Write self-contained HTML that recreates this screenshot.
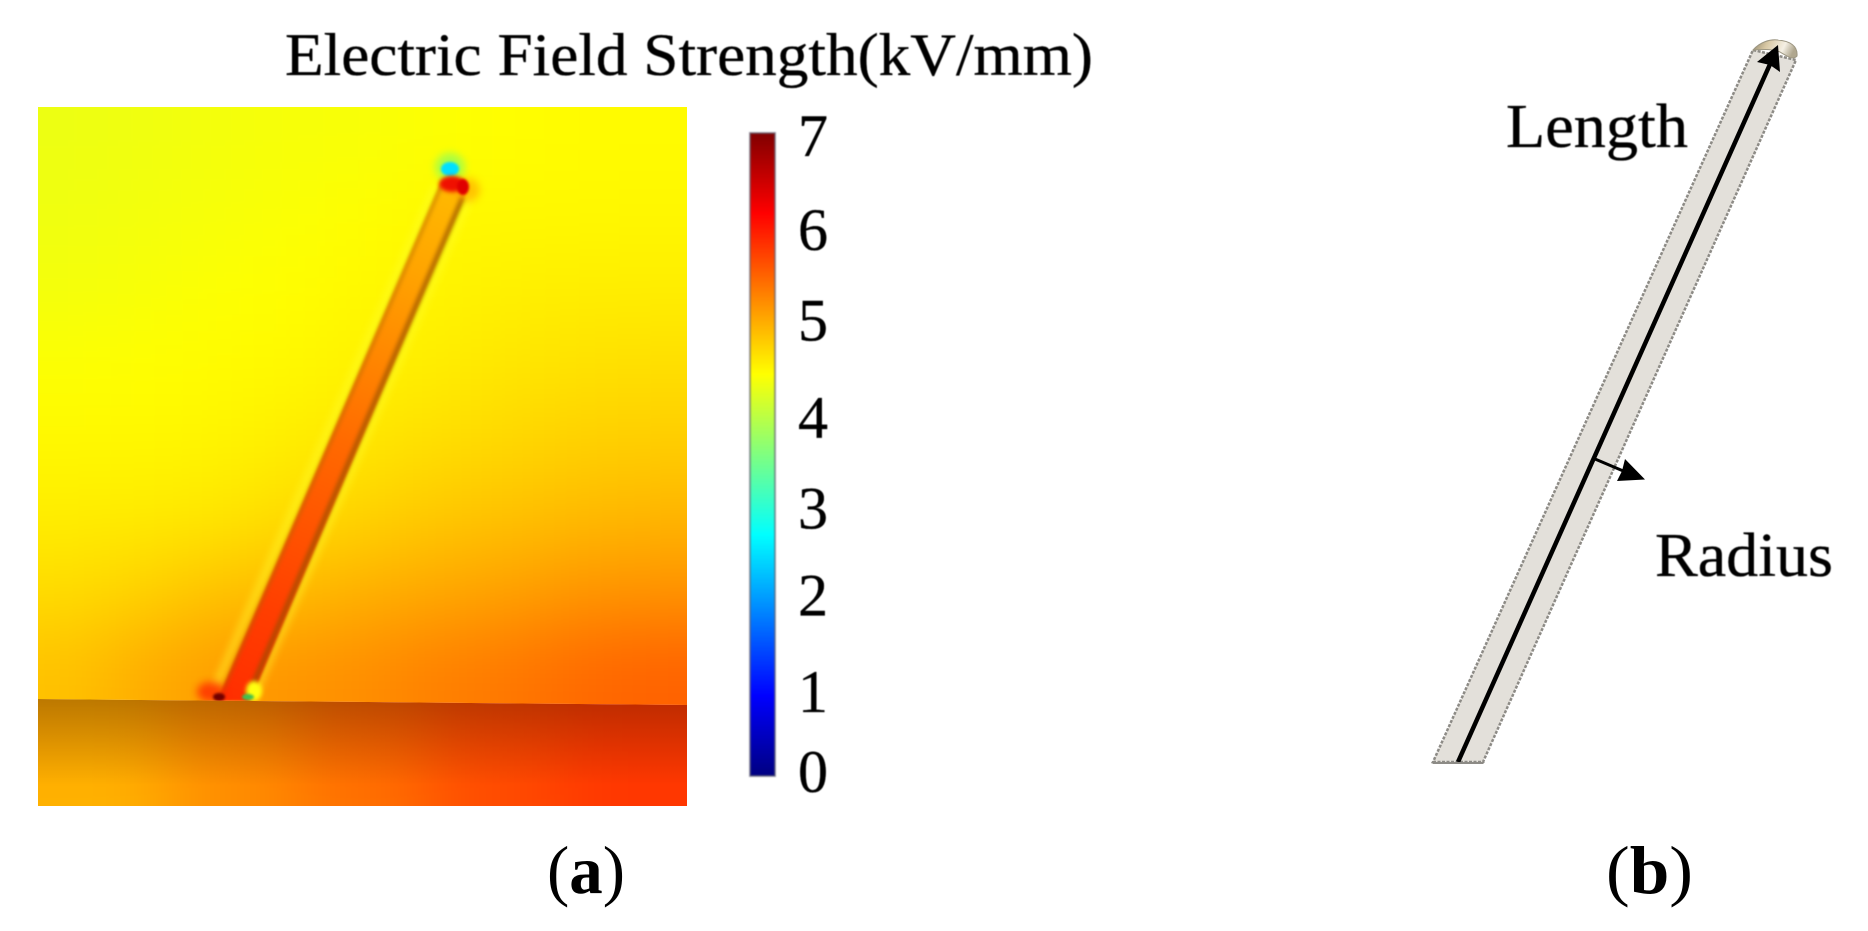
<!DOCTYPE html>
<html lang="en">
<head>
<meta charset="utf-8">
<title>Electric field strength around a rod</title>
<style>
html,body{margin:0;padding:0;background:#fff;width:1868px;height:931px;overflow:hidden}
svg{display:block}
text{font-family:"Liberation Serif",serif;fill:#000}
.heavy{stroke:#000;stroke-width:.35px}
</style>
</head>
<body>
<svg id="figure" width="1868" height="931" viewBox="0 0 1868 931" xmlns="http://www.w3.org/2000/svg">
  <defs>
    <filter id="fieldBlur" filterUnits="userSpaceOnUse" x="-150" y="-50" width="1100" height="1050" color-interpolation-filters="sRGB"><feGaussianBlur stdDeviation="36"/></filter>
    <filter id="subBlur" filterUnits="userSpaceOnUse" x="-250" y="500" width="1200" height="500" color-interpolation-filters="sRGB"><feGaussianBlur stdDeviation="38"/></filter>
    <filter id="soft1" x="-80%" y="-80%" width="260%" height="260%" color-interpolation-filters="sRGB"><feGaussianBlur stdDeviation="1.3"/></filter>
    <filter id="soft15" filterUnits="userSpaceOnUse" x="150" y="130" width="400" height="620" color-interpolation-filters="sRGB"><feGaussianBlur stdDeviation="1.4"/></filter>
    <filter id="soft2" filterUnits="userSpaceOnUse" x="150" y="130" width="400" height="620" color-interpolation-filters="sRGB"><feGaussianBlur stdDeviation="2.2"/></filter>
    <filter id="soft4" filterUnits="userSpaceOnUse" x="150" y="130" width="400" height="620" color-interpolation-filters="sRGB"><feGaussianBlur stdDeviation="4"/></filter>
    <filter id="softBar" x="-30%" y="-5%" width="160%" height="110%" color-interpolation-filters="sRGB"><feGaussianBlur stdDeviation="0.7"/></filter>
    <filter id="softText"><feGaussianBlur stdDeviation="0.4"/></filter>
    <clipPath id="airClip"><polygon points="38,107 687,107 687,705 38,699"/></clipPath>
    <clipPath id="subClip"><polygon points="38,699 687,705 687,806 38,806"/></clipPath>
    <linearGradient id="subShade" gradientUnits="userSpaceOnUse" x1="0" y1="699" x2="0" y2="785">
      <stop offset="0" stop-color="#201000" stop-opacity=".30"/>
      <stop offset=".4" stop-color="#201000" stop-opacity=".18"/>
      <stop offset="1" stop-color="#201000" stop-opacity="0"/>
    </linearGradient>
    <linearGradient id="capGrad" x1="0" y1="0" x2="1" y2="0.2">
      <stop offset="0" stop-color="#8f8469"/>
      <stop offset=".35" stop-color="#d8c8a4"/>
      <stop offset=".75" stop-color="#f5f0e4"/>
      <stop offset="1" stop-color="#b0a78f"/>
    </linearGradient>
  </defs>

  <text class="heavy" x="285" y="75" font-size="60" textLength="808" lengthAdjust="spacingAndGlyphs" filter="url(#softText)">Electric Field Strength(kV/mm)</text>

  <g id="field">
    <g clip-path="url(#airClip)"><g id="airCells" filter="url(#fieldBlur)"></g></g>
    <g clip-path="url(#subClip)">
      <g id="subCells" filter="url(#subBlur)"></g>
      <polygon points="38,699 687,705 687,790 38,790" fill="url(#subShade)"/>
    </g>
    <g clip-path="url(#airClip)" id="rodGroup"></g>
  </g>

  <g id="colorbar"></g>

  <text x="547" y="893" font-size="68" textLength="78" lengthAdjust="spacingAndGlyphs">(<tspan font-weight="bold">a</tspan>)</text>

  <g>
    <polygon points="1433,762 1483,762 1796,60 1753,50" fill="#e3e0da" stroke="#8d8b86" stroke-width="2.5" stroke-dasharray="3 1.5"/>
    <path d="M1753,50 C1760,42 1770,39 1778,40 C1790,41 1798,46 1797,56 C1793,60 1790,58 1780,52 C1770,48 1760,50 1753,50 Z" fill="url(#capGrad)" stroke="#9c9682" stroke-width="1"/>
    <path d="M1458,762 L1771,62" stroke="#000" stroke-width="4.5" fill="none"/>
    <polygon points="1778,45 1780,72 1770,65 1757,62" fill="#000"/>
    <path d="M1595,459 L1628,473" stroke="#000" stroke-width="3" fill="none"/>
    <polygon points="1645,479.5 1617,481 1622,471 1625,459" fill="#000"/>
    <polygon points="1431,762 1485,762 1483,764 1433,764" fill="#8d8b86"/>
  </g>

  <text class="heavy" x="1506" y="147" font-size="62" textLength="182" lengthAdjust="spacingAndGlyphs" filter="url(#softText)">Length</text>
  <text class="heavy" x="1655" y="576" font-size="62" textLength="178" lengthAdjust="spacingAndGlyphs" filter="url(#softText)">Radius</text>
  <text x="1606" y="893" font-size="68" textLength="87" lengthAdjust="spacingAndGlyphs">(<tspan font-weight="bold">b</tspan>)</text>
</svg>

<script>
// Colorbar data
const tickLabels = ["0", "1", "2", "3", "4", "5", "6", "7"];
const colormapValues = [0, 0.875, 2.625, 4.375, 6.125, 7];
const colormapColors = ["#000080", "#0000ff", "#00ffff", "#ffff00", "#ff0000", "#800000"];

// Field strength readings (kV/mm) in the air region, rows top to bottom
const airRow0 = [4.25, 4.27, 4.3, 4.32, 4.33, 4.36, 4.38, 4.4, 4.4];
const airRow1 = [4.27, 4.3, 4.32, 4.35, 4.38, 4.42, 4.42, 4.42, 4.43];
const airRow2 = [4.3, 4.33, 4.36, 4.38, 4.42, 4.45, 4.48, 4.5, 4.5];
const airRow3 = [4.36, 4.38, 4.4, 4.42, 4.47, 4.5, 4.55, 4.58, 4.6];
const airRow4 = [4.42, 4.43, 4.45, 4.5, 4.55, 4.6, 4.65, 4.7, 4.72];
const airRow5 = [4.5, 4.52, 4.55, 4.62, 4.68, 4.75, 4.8, 4.85, 4.88];
const airRow6 = [4.62, 4.7, 4.8, 4.85, 4.92, 4.98, 5.02, 5.1, 5.12];
const airRow7 = [4.8, 4.95, 5.05, 5.1, 5.15, 5.25, 5.3, 5.4, 5.45];

// Field strength readings in the substrate
const subRow0 = [5.0, 5.2, 5.45, 5.65, 5.75];
const subRow1 = [4.9, 5.15, 5.35, 5.6, 5.75];

// Field strength along the rod, tip to base
const rodValues = [4.85, 5.0, 5.2, 5.4, 5.55, 5.7, 5.8];

const SVGNS = "http://www.w3.org/2000/svg";
const axisTop = 133, axisBottom = 776, axisMax = 7;
function valueToY(v) { return axisBottom - (v / axisMax) * (axisBottom - axisTop); }
function hexToRgb(h) { return [1, 3, 5].map(function (i) { return parseInt(h.substr(i, 2), 16); }); }
function colorFor(v) {
  var n = colormapValues.length;
  if (v <= colormapValues[0]) return colormapColors[0];
  if (v >= colormapValues[n - 1]) return colormapColors[n - 1];
  for (var i = 0; i < n - 1; i++) {
    if (v <= colormapValues[i + 1]) {
      var t = (v - colormapValues[i]) / (colormapValues[i + 1] - colormapValues[i]);
      var a = hexToRgb(colormapColors[i]), b = hexToRgb(colormapColors[i + 1]);
      return "rgb(" + a.map(function (c, k) { return Math.round(c + (b[k] - c) * t); }).join(",") + ")";
    }
  }
}
function make(tag, attrs, parent) {
  var el = document.createElementNS(SVGNS, tag);
  for (var k in attrs) el.setAttribute(k, attrs[k]);
  if (parent) parent.appendChild(el);
  return el;
}
function drawGrid(rows, parent, left, top, right, bottom, pad) {
  var cw = (right - left) / rows[0].length, ch = (bottom - top) / rows.length;
  rows.forEach(function (row, r) {
    row.forEach(function (v, c) {
      var x0 = left + c * cw - (c === 0 ? pad : 0);
      var x1 = left + (c + 1) * cw + (c === row.length - 1 ? pad : 0);
      var y0 = top + r * ch - (r === 0 ? pad : 0);
      var y1 = top + (r + 1) * ch + (r === rows.length - 1 ? pad : 0);
      var cell = make("rect", { x: x0, y: y0, width: x1 - x0 + 0.5, height: y1 - y0 + 0.5, fill: colorFor(v) }, parent);
      
      
    });
  });
}
drawGrid([airRow0, airRow1, airRow2, airRow3, airRow4, airRow5, airRow6, airRow7], document.getElementById("airCells"), 38, 107, 687, 705, 110);
drawGrid([subRow0, subRow1], document.getElementById("subCells"), 38, 699, 687, 806, 130);

// Rod
(function () {
  var g = document.getElementById("rodGroup");
  var defs = document.querySelector("defs");
  var grad = make("linearGradient", { id: "rodGrad", gradientUnits: "userSpaceOnUse", x1: 452, y1: 185, x2: 232, y2: 697 }, defs);
  rodValues.forEach(function (v, i) {
    make("stop", { offset: i / (rodValues.length - 1), "stop-color": colorFor(v) }, grad);
  });
  var halo = make("path", { d: "M436,186 L214,690 M470,196 L256,690", stroke: "#ffff30", "stroke-width": 7, opacity: .5, fill: "none", filter: "url(#soft4)" }, g);
  
  
  var body = make("path", { d: "M217,701 L250,701 L466,194 Q464,178 451,176 Q443,176 440,184 Z", fill: "url(#rodGrad)", filter: "url(#soft15)" }, g);
  
  
  var edgeR = make("path", { d: "M463,197 L247,699", stroke: "#8f5000", "stroke-width": 5, opacity: .7, fill: "none", filter: "url(#soft2)" }, g);
  
  
  var edgeL = make("path", { d: "M441,186 L219,699", stroke: "#a86800", "stroke-width": 3, opacity: .55, fill: "none", filter: "url(#soft2)" }, g);
  
  
  var spots = [
    ["tip-green-halo", 450, 167, 15, 14, "#70ff70", .6, "url(#soft4)"],
    ["tip-cyan-spot", 450, 169, 9, 7, "#00e0ff", 1, "url(#soft1)"],
    ["tip-red-glow", 468, 190, 12, 12, "#ff9000", .5, "url(#soft4)"],
    ["tip-red-cap", 452, 184, 13, 8, "#f01000", 1, "url(#soft2)"],
    ["tip-red-side", 463, 187, 6, 8, "#e00000", 1, "url(#soft1)"],
    ["base-red-glow", 211, 692, 14, 10, "#ff2000", .75, "url(#soft4)"],
    ["base-dark-spot", 219, 697, 6, 4, "#700000", 1, "url(#soft1)"],
    ["base-yellow-glow", 254, 691, 8, 10, "#ffff10", 1, "url(#soft2)"],
    ["base-green-spot", 248, 697, 6, 3, "#40c050", 1, "url(#soft1)"]
  ];
  spots.forEach(function (s) {
    var e = make("ellipse", { cx: s[1], cy: s[2], rx: s[3], ry: s[4], fill: s[5], opacity: s[6], filter: s[7] }, g);
    
    
  });
})();

// Colorbar
(function () {
  var g = document.getElementById("colorbar");
  var defs = document.querySelector("defs");
  var grad = make("linearGradient", { id: "barGrad", x1: 0, y1: 1, x2: 0, y2: 0 }, defs);
  colormapValues.forEach(function (v, i) {
    make("stop", { offset: v / axisMax, "stop-color": colormapColors[i] }, grad);
  });
  var bar = make("rect", { x: 750, y: axisTop, width: 25, height: axisBottom - axisTop, fill: "url(#barGrad)", stroke: "#5a5a6a", "stroke-opacity": .6, "stroke-width": 2, filter: "url(#softBar)" }, g);
  
  
  var baselineOffset = { 0: 16, 1: 28, 2: 23, 3: 28, 4: 29, 5: 24, 6: 25, 7: 23 };
  tickLabels.forEach(function (label) {
    var v = Number(label), y = valueToY(v);
    if (v > 0 && v < axisMax) {
      [[750, 756], [769, 775]].forEach(function (xs) {
        var tick = make("line", { x1: xs[0], x2: xs[1], y1: y, y2: y, stroke: "#222", "stroke-width": 2.5, opacity: .75, filter: "url(#softBar)" }, g);
        
        
      });
    }
    var t = make("text", { x: 798, y: y + baselineOffset[v], "font-size": 60, "class": "heavy", filter: "url(#softText)" }, g);
    
    
    t.textContent = label;
  });
})();
</script>
</body>
</html>
